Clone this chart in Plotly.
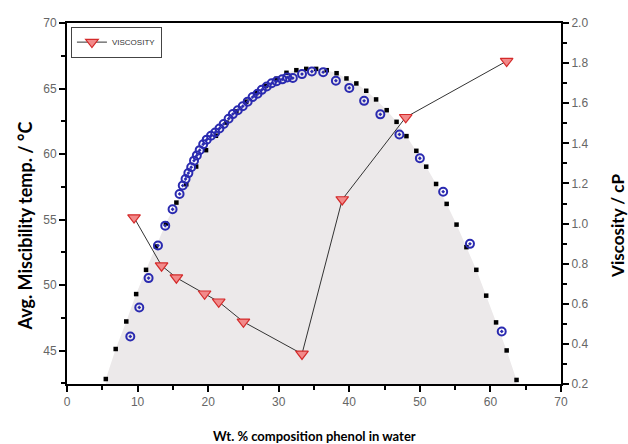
import plotly.graph_objects as go

# Boundary curve (black squares)
curve_x = [5.5, 6.9, 8.4, 9.8, 11.2, 12.6, 14.0, 15.5, 16.9, 18.3, 19.7, 21.1, 22.6, 24.0,
           25.4, 26.8, 28.2, 29.7, 31.1, 32.5, 33.9, 35.3, 36.8, 38.2, 39.6, 41.0, 42.4,
           43.8, 45.3, 46.7, 48.1, 49.5, 50.9, 52.3, 53.8, 55.2, 56.6, 58.0, 59.4, 60.8,
           62.3, 63.7]
curve_y = [42.84, 45.13, 47.23, 49.32, 51.17, 52.95, 54.7, 56.3, 57.7, 59.05, 60.3, 61.4,
           62.4, 63.25, 64.0, 64.65, 65.2, 65.75, 66.2, 66.4, 66.5, 66.5, 66.4, 66.17,
           65.77, 65.39, 64.83, 64.17, 63.35, 62.46, 61.37, 60.25, 59.04, 57.72, 56.2,
           54.62, 52.9, 51.17, 49.2, 47.16, 45.02, 42.77]

# Experimental points (blue circles)
exp_x = [8.97, 10.24, 11.56, 12.89, 13.92, 14.96, 15.95, 16.4, 16.8, 17.2, 17.6, 18.0,
         18.4, 18.8, 19.3, 19.8, 20.4, 21.0, 21.6, 22.2, 22.9, 23.5, 24.2, 24.9, 25.6,
         26.3, 27.0, 27.6, 28.3, 29.0, 29.7, 30.5, 31.2, 32.0, 33.3, 34.7, 36.3, 38.1,
         40.0, 42.1, 44.4, 47.1, 50.0, 53.3, 57.1, 61.6]
exp_y = [46.09, 48.3, 50.54, 53.02, 54.54, 55.79, 56.96, 57.6, 58.1, 58.55, 59.0, 59.5,
         59.9, 60.3, 60.75, 61.1, 61.4, 61.65, 61.95, 62.3, 62.7, 63.05, 63.35, 63.65,
         64.0, 64.35, 64.6, 64.9, 65.15, 65.4, 65.55, 65.7, 65.85, 65.8, 66.1, 66.3,
         66.25, 65.6, 65.05, 64.06, 63.03, 61.5, 59.68, 57.13, 53.15, 46.47]

# Viscosity (red triangles, right axis)
visc_x = [9.5, 13.4, 15.5, 19.5, 21.5, 25.0, 33.3, 39.0, 48.0, 62.3]
visc_y = [1.03, 0.79, 0.73, 0.65, 0.61, 0.51, 0.35, 1.12, 1.53, 1.81]

x_ticks = [0, 10, 20, 30, 40, 50, 60, 70]
y_ticks = [45, 50, 55, 60, 65, 70]
y2_ticks = [0.2, 0.4, 0.6, 0.8, 1.0, 1.2, 1.4, 1.6, 1.8, 2.0]

fig = go.Figure()

fig.add_trace(go.Scatter(x=curve_x, y=curve_y, mode="lines", line=dict(width=0),
                         fill="tozeroy", fillcolor="rgb(236,233,234)",
                         showlegend=False, hoverinfo="skip"))
fig.add_trace(go.Scatter(x=curve_x, y=curve_y, mode="markers",
                         marker=dict(symbol="square", size=4.5, color="black"),
                         showlegend=False))
fig.add_trace(go.Scatter(x=exp_x, y=exp_y, mode="markers",
                         marker=dict(symbol="circle-open-dot", size=8, color="#2a2ab0",
                                     line=dict(width=2, color="#2a2ab0")),
                         showlegend=False))
fig.add_trace(go.Scatter(x=visc_x, y=visc_y, yaxis="y2", mode="lines+markers",
                         name="VISCOSITY",
                         line=dict(color="#333333", width=1),
                         marker=dict(symbol="triangle-down", size=11, color="#f28a8a",
                                     line=dict(color="#d42a2a", width=1.2))))

tickfont = dict(family="Liberation Sans, Arial, sans-serif", size=12, color="#666666")
common = dict(showline=True, linecolor="black", linewidth=2, ticks="outside",
              ticklen=6, tickwidth=1.5, tickcolor="black", showgrid=False,
              zeroline=False, tickfont=tickfont)

fig.update_layout(
    width=628, height=444,
    margin=dict(l=67, r=67, t=23, b=60),
    paper_bgcolor="white", plot_bgcolor="white",
    xaxis=dict(range=[0, 70], tickvals=x_ticks, mirror=True,
               minor=dict(dtick=5, ticks="outside", ticklen=4, tickwidth=1.5,
                          tickcolor="black"), **common),
    yaxis=dict(range=[42.46, 70], tickvals=y_ticks,
               minor=dict(dtick=2.5, ticks="outside", ticklen=4, tickwidth=1.5,
                          tickcolor="black"), **common),
    yaxis2=dict(range=[0.2, 2.0], tickvals=y2_ticks, tickformat=".1f",
                overlaying="y", side="right",
                minor=dict(dtick=0.1, ticks="outside", ticklen=4, tickwidth=1.5,
                           tickcolor="black"), **common),
    legend=dict(x=0.008, y=0.99, xanchor="left", yanchor="top",
                bgcolor="white", bordercolor="#444444", borderwidth=1,
                font=dict(family="Liberation Sans, Arial, sans-serif", size=8, color="#333"),
                itemwidth=30),
    annotations=[
        dict(text="<b>Wt. % composition phenol in water</b>", xref="paper", yref="paper",
             x=0.5, y=-0.145, xanchor="center", yanchor="middle", showarrow=False,
             font=dict(family="Lato, sans-serif", size=13, color="black")),
        dict(text="<b>Avg. Miscibility temp. / °C</b>", xref="paper", yref="paper",
             x=-0.085, y=0.436, xanchor="center", yanchor="middle", showarrow=False,
             textangle=-90,
             font=dict(family="Lato, sans-serif", size=18, color="black")),
        dict(text="<b>Viscosity / cP</b>", xref="paper", yref="paper",
             x=1.0, y=0.438, xanchor="center", yanchor="middle", showarrow=False,
             textangle=-90, xshift=57,
             font=dict(family="Lato, sans-serif", size=17, color="black")),
    ],
)

fig.write_html("out.html", config={"displayModeBar": False},
               post_script="document.body.style.margin='0';document.body.style.overflow='hidden';")
